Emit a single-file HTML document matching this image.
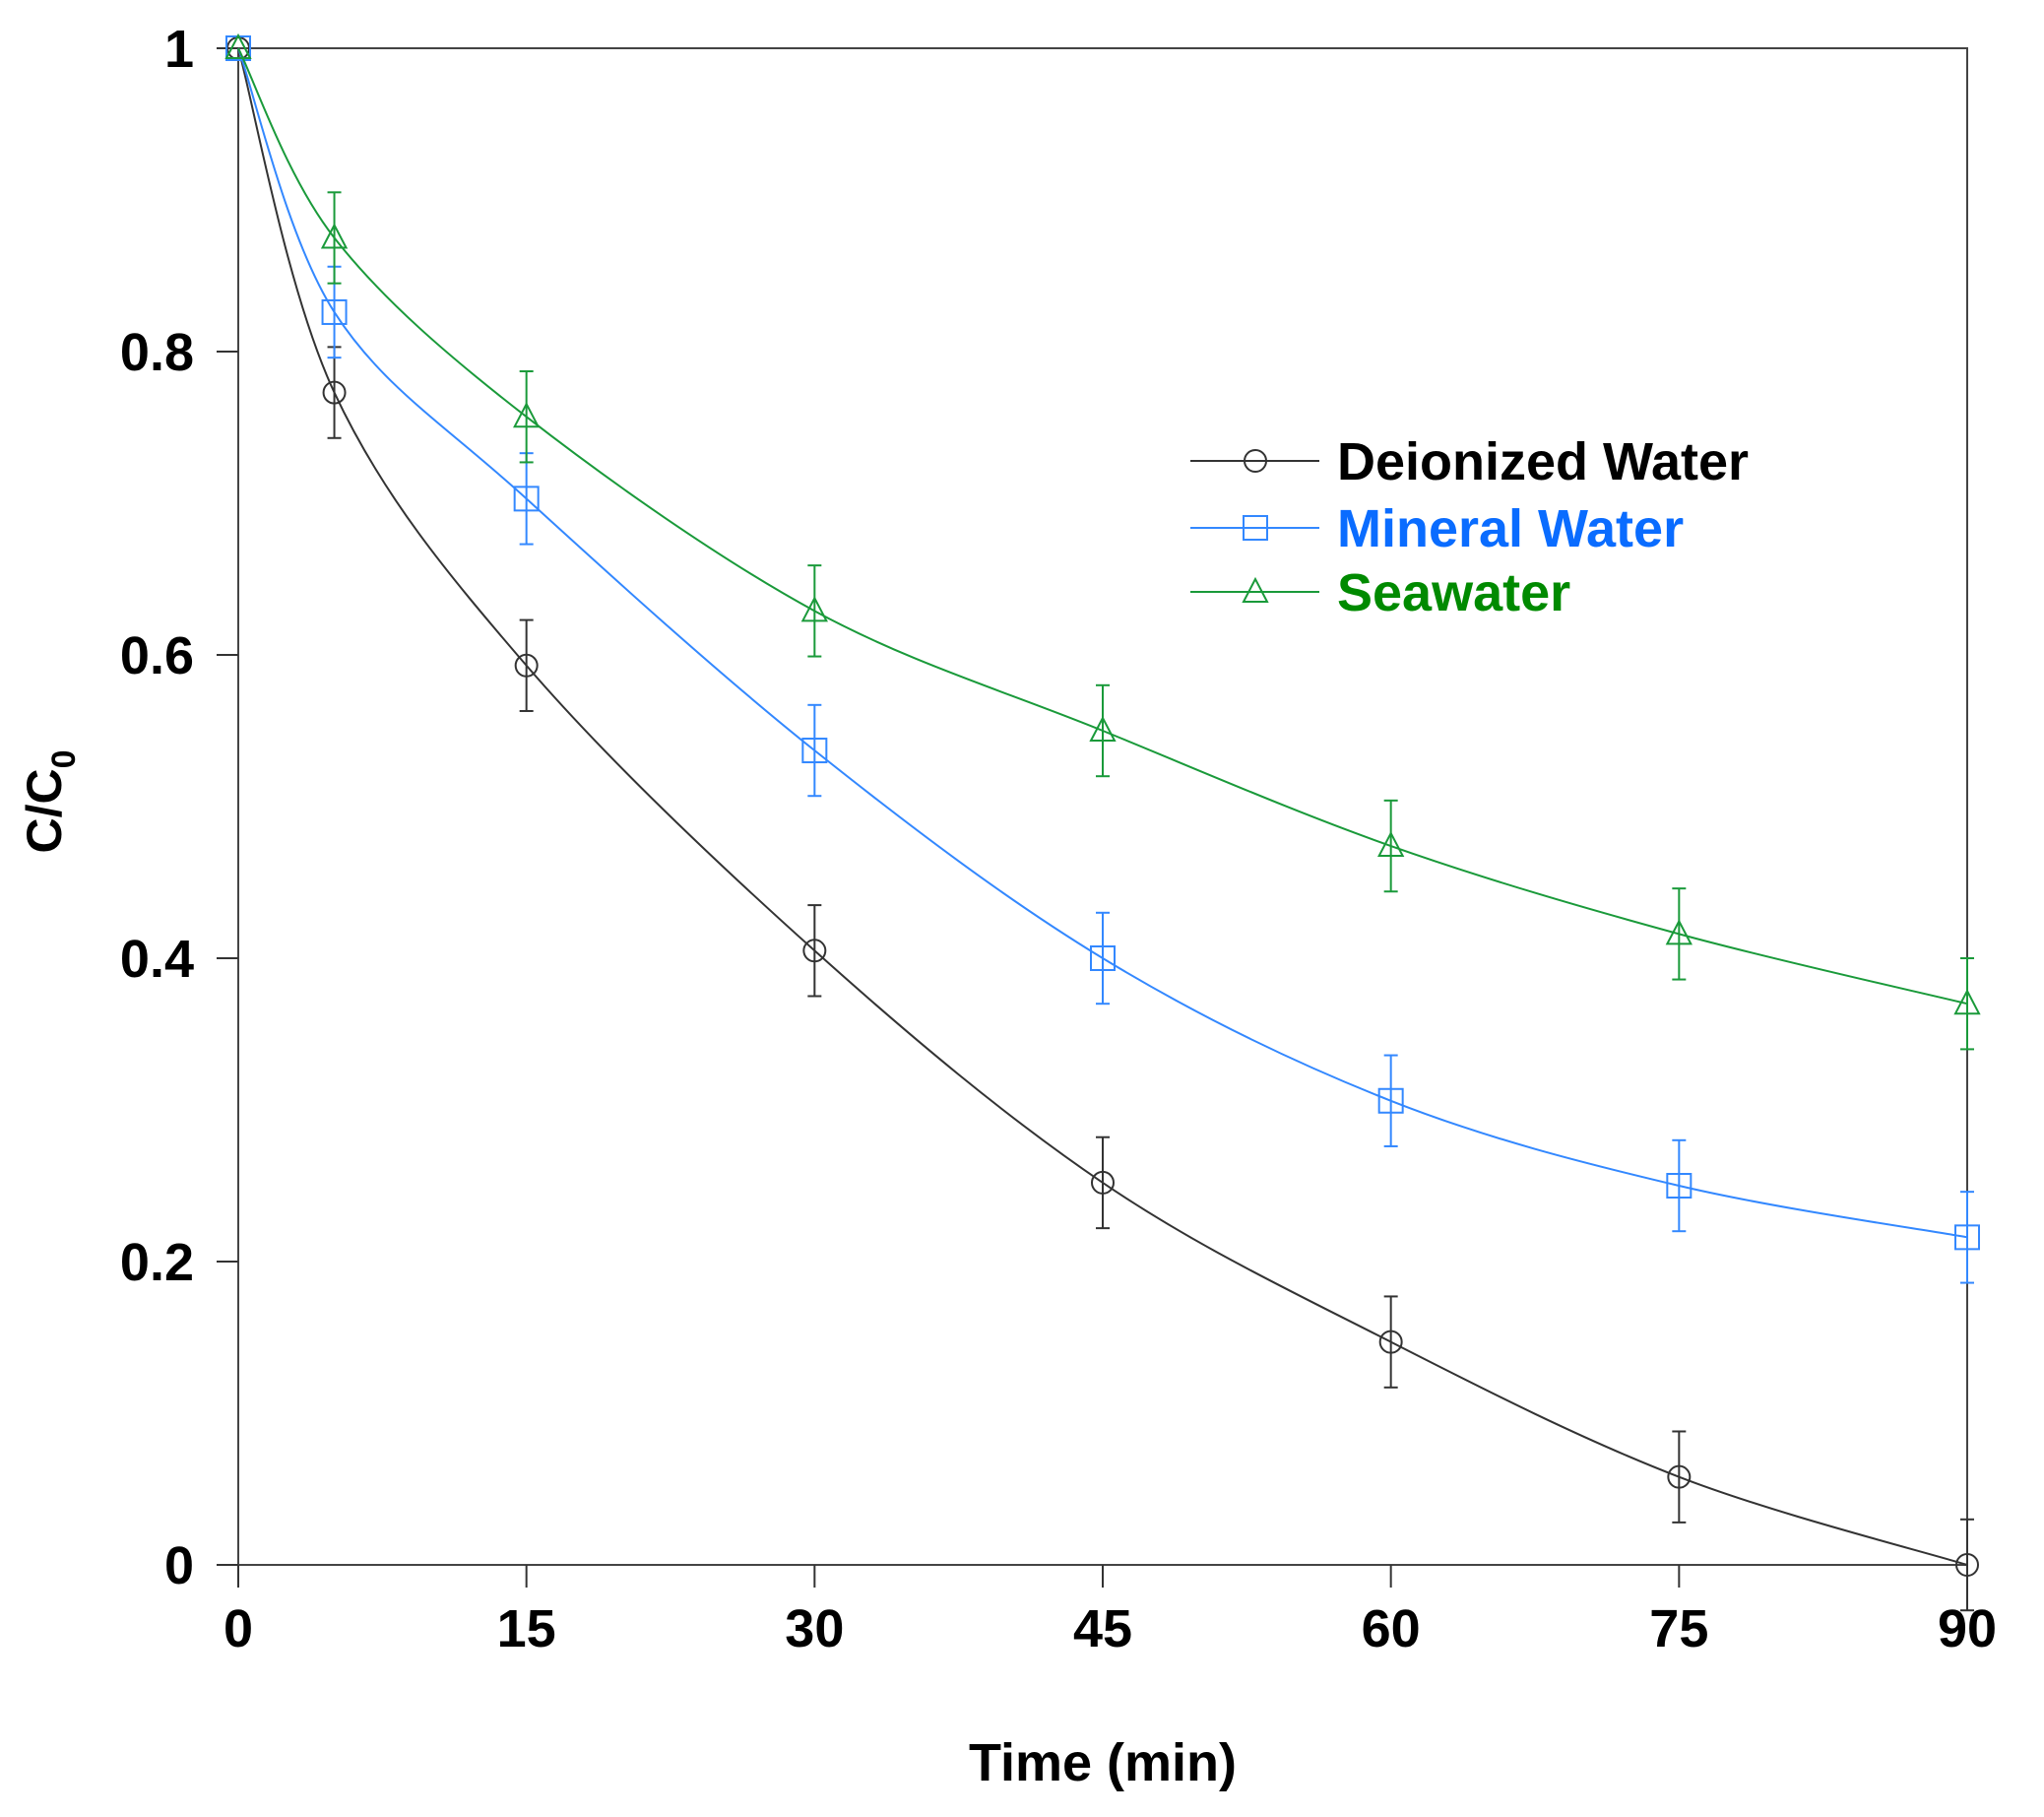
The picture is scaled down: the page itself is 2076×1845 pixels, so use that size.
<!DOCTYPE html>
<html><head><meta charset="utf-8"><style>
html,body{margin:0;padding:0;background:#fff;}
svg text{font-family:"Liberation Sans",Arial,sans-serif;font-weight:bold;}
</style></head><body>
<svg id="chart" width="2076" height="1840" viewBox="0 0 2076 1840" xmlns="http://www.w3.org/2000/svg">
<g id="grid"></g>
<g id="series"></g>
<g id="legend"></g>
</svg>
<script>
const times = [0, 5, 15, 30, 45, 60, 75, 90];
const deionized = [1, 0.773, 0.593, 0.405, 0.252, 0.147, 0.058, 0.0];
const mineral = [1, 0.826, 0.703, 0.537, 0.400, 0.306, 0.250, 0.216];
const seawater = [1, 0.875, 0.757, 0.629, 0.550, 0.474, 0.416, 0.370];
const deionizedErr = [0, 0.03, 0.03, 0.03, 0.03, 0.03, 0.03, 0.03];
const mineralErr = [0, 0.03, 0.03, 0.03, 0.03, 0.03, 0.03, 0.03];
const seawaterErr = [0, 0.03, 0.03, 0.03, 0.03, 0.03, 0.03, 0.03];
const xTicks = [0, 15, 30, 45, 60, 75, 90];
const yTicks = [0, 0.2, 0.4, 0.6, 0.8, 1];
const yTickLabels = ["0", "0.2", "0.4", "0.6", "0.8", "1"];
const seriesNames = ["Deionized Water", "Mineral Water", "Seawater"];

const NS = "http://www.w3.org/2000/svg";
const L = 242, R = 1998, T = 49, B = 1589;
function xs(v){ return L + (v - 0) / 90 * (R - L); }
function ys(v){ return B - (v - 0) / 1 * (B - T); }
function mk(tag, attrs, parent){
  const e = document.createElementNS(NS, tag);
  for (const k in attrs) e.setAttribute(k, attrs[k]);
  parent.appendChild(e);
  return e;
}
const grid = document.getElementById('grid');
const ser = document.getElementById('series');
const leg = document.getElementById('legend');

let fr = mk('rect', {x:L, y:T, width:R-L, height:B-T, fill:'none', stroke:'#444', 'stroke-width':2}, grid);


mk('line', {x1:220, y1:B, x2:L, y2:B, stroke:'#444','stroke-width':2}, grid);

xTicks.forEach((t) => {
  const x = xs(t);
  mk('line', {x1:x, y1:B, x2:x, y2:B+23, stroke:'#333','stroke-width':2}, grid);
  const tx = mk('text', {x:x, y:1672, 'font-size':54, 'text-anchor':'middle', fill:'#000'}, grid);
  tx.textContent = String(t);
  
  
});
yTicks.forEach((t, i) => {
  const y = ys(t);
  mk('line', {x1:L-22, y1:y, x2:L, y2:y, stroke:'#333','stroke-width':2}, grid);
  const tx = mk('text', {x:197, y:y+19, 'font-size':54, 'text-anchor':'end', fill:'#000'}, grid);
  tx.textContent = yTickLabels[i];
  
  
});
let xt = mk('text', {x:1120, y:1808, 'font-size':54, 'text-anchor':'middle', fill:'#000'}, grid);
xt.textContent = 'Time (min)';


let yt = mk('text', {x:0, y:0, 'font-size':50, 'text-anchor':'middle', fill:'#000', transform:'translate(62,814) rotate(-90)'}, grid);
yt.innerHTML = 'C/C<tspan font-size="34" dy="14">0</tspan>';



function curvePath(vals){
  const pts = times.map((t,i)=>[xs(t), ys(vals[i])]);
  let d = 'M' + pts[0][0] + ',' + pts[0][1];
  for (let i=0;i<pts.length-1;i++){
    const p0 = pts[Math.max(0,i-1)], p1 = pts[i], p2 = pts[i+1], p3 = pts[Math.min(pts.length-1,i+2)];
    const c1x = p1[0] + (p2[0]-p0[0])/6, c1y = p1[1] + (p2[1]-p0[1])/6;
    const c2x = p2[0] - (p3[0]-p1[0])/6, c2y = p2[1] - (p3[1]-p1[1])/6;
    d += ' C'+c1x+','+c1y+' '+c2x+','+c2y+' '+p2[0]+','+p2[1];
  }
  return d;
}
function marker(type, x, y, color, parent){
  let m;
  if (type === 'circle') m = mk('circle', {cx:x, cy:y, r:11, fill:'none', stroke:color, 'stroke-width':2}, parent);
  else if (type === 'square') m = mk('rect', {x:x-12, y:y-12, width:24, height:24, fill:'none', stroke:color, 'stroke-width':2}, parent);
  else m = mk('polygon', {points:(x)+','+(y-13)+' '+(x-12)+','+(y+10)+' '+(x+12)+','+(y+10), fill:'none', stroke:color, 'stroke-width':2}, parent);
  return m;
}
const cfg = [
  {vals:deionized, err:deionizedErr, color:'#333', text:'#000', m:'circle', key:'deionized'},
  {vals:mineral, err:mineralErr, color:'#3388ff', text:'#0a6cff', m:'square', key:'mineral'},
  {vals:seawater, err:seawaterErr, color:'#1a9a3a', text:'#008a00', m:'triangle', key:'seawater'}
];
cfg.forEach((c, si) => {
  const g = mk('g', {}, ser);
  
  
  const p = mk('path', {d:curvePath(c.vals), fill:'none', stroke:c.color, 'stroke-width':2}, g);
  
  
  times.forEach((t, i) => {
    const x = xs(t), y = ys(c.vals[i]);
    if (c.err[i] > 0){
      const y1 = ys(c.vals[i] + c.err[i]), y2 = ys(c.vals[i] - c.err[i]);
      mk('line', {x1:x, y1:y1, x2:x, y2:y2, stroke:c.color, 'stroke-width':2}, g);
      mk('line', {x1:x-7, y1:y1, x2:x+7, y2:y1, stroke:c.color, 'stroke-width':2}, g);
      mk('line', {x1:x-7, y1:y2, x2:x+7, y2:y2, stroke:c.color, 'stroke-width':2}, g);
    }
    const m = marker(c.m, x, y, c.color, g);
    
    
  });
  const ly = [468, 536, 601][si];
  const lg = mk('g', {}, leg);
  
  
  mk('line', {x1:1209, y1:ly, x2:1340, y2:ly, stroke:c.color, 'stroke-width':2}, lg);
  marker(c.m, 1275, ly, c.color, lg);
  const tx = mk('text', {x:1358, y:ly+19, 'font-size':54, fill:c.text}, lg);
  tx.textContent = seriesNames[si];
});
</script>
</body></html>
